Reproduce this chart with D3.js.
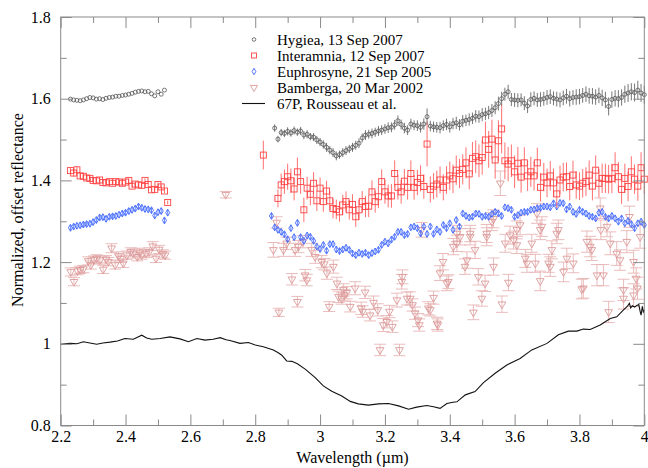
<!DOCTYPE html>
<html><head><meta charset="utf-8">
<script src="https://cdn.jsdelivr.net/npm/d3@7"></script>
<style>
body{margin:0;background:#fff}
svg{display:block}
text{font-family:"Liberation Serif","Times New Roman",serif;fill:#000}
</style>
</head><body>
<svg id="chart" width="648" height="468"></svg>
<script>
// ---------- axes / labels ----------
const xTicks = [2.2,2.4,2.6,2.8,3.0,3.2,3.4,3.6,3.8,4.0];
const xTickLabels = ["2.2","2.4","2.6","2.8","3","3.2","3.4","3.6","3.8","4"];
const xMinorTicks = [2.3,2.5,2.7,2.9,3.1,3.3,3.5,3.7,3.9];
const yTicks = [0.8,1.0,1.2,1.4,1.6,1.8];
const yTickLabels = ["0.8","1","1.2","1.4","1.6","1.8"];
const yMinorTicks = [0.9,1.1,1.3,1.5,1.7];
const xTitle = "Wavelength (\u00b5m)";
const yTitle = "Normalized, offset reflectance";
const legendLabels = ["Hygiea, 13 Sep 2007","Interamnia, 12 Sep 2007","Euphrosyne, 21 Sep 2005","Bamberga, 20 Mar 2002","67P, Rousseau et al."];

// ---------- wavelength grids (regular spectrometer channels, 0.01 um) ----------
const grid = (start, n) => Array.from({length:n}, (_, i) => +(start + i*0.01).toFixed(2));

// ---------- Hygiea ----------
const hygieaWave1 = grid(2.23, 30);
const hygieaVal1 = [1.599,1.597,1.596,1.595,1.597,1.600,1.603,1.602,1.599,1.600,
  1.598,1.601,1.603,1.604,1.606,1.606,1.608,1.609,1.611,1.613,
  1.616,1.618,1.619,1.617,1.618,1.612,1.607,1.617,1.611,1.621];
const hygieaWave2 = grid(2.86, 115);
const hygieaVal2 = [1.528,1.501,1.517,1.515,1.520,1.516,1.522,1.518,1.521,1.511,
  1.513,1.507,1.506,1.499,1.494,1.488,1.481,1.474,1.468,1.460,
  1.463,1.468,1.473,1.477,1.481,1.486,1.491,1.504,1.511,1.513,
  1.515,1.518,1.521,1.523,1.526,1.529,1.530,1.536,1.546,1.537,
  1.528,1.523,1.538,1.535,1.534,1.530,1.538,1.556,1.533,1.531,
  1.530,1.529,1.534,1.537,1.531,1.539,1.541,1.536,1.545,1.547,
  1.549,1.552,1.557,1.556,1.561,1.563,1.566,1.571,1.578,1.588,
  1.600,1.611,1.617,1.598,1.597,1.596,1.597,1.589,1.582,1.598,
  1.601,1.597,1.598,1.600,1.603,1.605,1.601,1.599,1.597,1.602,
  1.606,1.600,1.603,1.604,1.605,1.608,1.611,1.607,1.606,1.604,
  1.608,1.602,1.597,1.581,1.598,1.601,1.600,1.603,1.611,1.614,
  1.617,1.615,1.621,1.614,1.610];
const hygieaErr2 = [9,8,9,9,10,9,10,9,10,10, 10,9,10,10,10,10,11,10,11,11,
  10,11,11,10,11,11,12,11,12,11, 12,11,12,12,12,13,12,12,13,12,
  13,12,13,12,13,13,14,20,13,13, 13,14,13,14,14,14,15,14,15,14,
  15,14,15,15,16,15,16,16,16,17, 17,16,17,16,17,17,16,17,17,18,
  17,17,18,17,18,18,17,18,18,18, 18,19,18,19,19,18,19,19,20,19,
  19,20,20,22,20,20,21,20,21,22, 21,22,23,22,22]; // x 0.001

// ---------- Interamnia ----------
const interWave1 = grid(2.23, 31);
const interVal1 = [1.424,1.418,1.426,1.411,1.410,1.406,1.405,1.400,1.399,1.401,
  1.395,1.394,1.397,1.393,1.397,1.396,1.393,1.396,1.400,1.386,
  1.391,1.389,1.388,1.400,1.390,1.377,1.378,1.390,1.384,1.374,1.346];
const interErr1 = [8,9,8,7,7,6,6,6,6,6,5,5,5,5,5,5,5,5,5,5,5,5,5,5,5,5,5,5,5,5,5];
const interWaveLone = [2.825];
const interValLone = [1.462];
const interErrLone = [35];
const interWave2 = grid(2.87, 114);
const interVal2 = [1.356,1.389,1.397,1.409,1.399,1.379,1.421,1.397,1.328,1.381,
  1.366,1.393,1.350,1.381,1.348,1.374,1.350,1.331,1.329,1.323,
  1.340,1.348,1.328,1.341,1.311,1.328,1.348,1.336,1.337,1.372,
  1.348,1.360,1.397,1.372,1.362,1.362,1.417,1.383,1.372,1.398,
  1.383,1.417,1.383,1.395,1.405,1.385,1.489,1.378,1.386,1.391,
  1.401,1.383,1.401,1.411,1.404,1.425,1.417,1.427,1.443,1.416,
  1.454,1.458,1.448,1.456,1.499,1.476,1.501,1.450,1.497,1.526,
  1.448,1.440,1.448,1.421,1.442,1.408,1.443,1.411,1.421,1.411,
  1.443,1.383,1.408,1.394,1.411,1.394,1.367,1.401,1.408,1.409,
  1.385,1.413,1.389,1.386,1.393,1.397,1.413,1.386,1.425,1.393,
  1.405,1.405,1.403,1.405,1.431,1.409,1.378,1.405,1.385,1.421,
  1.403,1.386,1.431,1.403];
const interErr2 = [22,28,30,32,30,28,35,30,30,28, 27,27,25,26,25,25,24,24,24,24,
  25,25,24,25,25,25,26,26,27,28, 27,28,30,29,28,29,32,30,29,30,
  30,32,30,31,32,30,55,32,32,33, 33,32,34,35,35,36,36,37,38,38,
  40,40,40,42,45,45,48,46,50,60, 45,42,40,40,40,38,38,37,37,36,
  37,35,35,35,36,35,34,35,35,35, 34,35,34,34,35,35,36,35,36,35,
  36,36,35,36,38,36,36,36,36,38, 36,36,38,36];

// ---------- Euphrosyne ----------
const euphWave1 = grid(2.23, 31);
const euphVal1 = [1.284,1.287,1.289,1.290,1.292,1.293,1.294,1.298,1.303,1.309,
  1.310,1.306,1.311,1.312,1.313,1.316,1.319,1.321,1.325,1.328,
  1.331,1.336,1.333,1.330,1.329,1.327,1.314,1.322,1.325,1.302,1.321];
const euphWave2 = grid(2.85, 116);
const euphVal2 = [1.313,1.285,1.279,1.274,1.268,1.256,1.283,1.261,1.296,1.261,
  1.252,1.265,1.262,1.252,1.238,1.232,1.242,1.228,1.244,1.244,
  1.231,1.227,1.231,1.235,1.230,1.221,1.217,1.223,1.220,1.223,
  1.217,1.222,1.226,1.230,1.242,1.250,1.246,1.255,1.262,1.274,
  1.274,1.266,1.269,1.285,1.287,1.283,1.270,1.287,1.269,1.287,
  1.269,1.280,1.274,1.291,1.283,1.295,1.279,1.303,1.287,1.319,
  1.313,1.309,1.311,1.319,1.318,1.311,1.313,1.311,1.318,1.323,
  1.319,1.313,1.334,1.332,1.328,1.311,1.315,1.321,1.323,1.323,
  1.328,1.329,1.332,1.333,1.336,1.336,1.334,1.344,1.336,1.345,
  1.344,1.329,1.336,1.323,1.318,1.328,1.323,1.319,1.313,1.311,
  1.307,1.321,1.323,1.311,1.307,1.313,1.307,1.299,1.307,1.295,
  1.301,1.293,1.283,1.295,1.299,1.291];

// ---------- Bamberga (wavelength, value, error x0.001) ----------
const bambergaWave = [2.231,2.241,2.252,2.260,2.270,2.285,2.293,2.302,2.311,2.321,2.331,2.340,2.347,2.357,2.368,2.378,2.385,2.393,2.404,2.416,2.424,2.436,2.443,2.450,2.463,2.473,2.484,2.494,2.504,2.515,2.522,
  2.709,
  2.856,2.866,2.873,2.887,2.897,2.913,2.923,2.930,2.933,2.947,2.954,2.959,2.974,2.985,3.005,3.013,3.021,3.028,3.041,3.052,3.057,3.067,3.072,3.075,3.082,3.093,3.108,3.127,3.131,3.139,3.154,3.165,3.178,3.185,3.195,3.206,3.214,3.223,3.237,3.245,3.252,3.254,3.268,3.278,3.285,3.293,3.302,3.306,3.313,3.334,3.340,3.350,3.361,3.363,3.370,3.379,3.391,3.396,3.411,3.422,3.422,3.432,3.447,3.453,3.463,3.463,3.473,3.478,3.488,3.499,3.509,3.514,3.514,3.530,3.535,3.535,3.556,3.561,3.571,3.581,3.586,3.597,3.607,3.607,3.617,3.633,3.638,3.653,3.664,3.669,3.679,3.679,3.684,3.705,3.710,3.715,3.730,3.735,3.751,3.761,3.781,3.807,3.812,3.823,3.833,3.838,3.854,3.864,3.866,3.874,3.885,3.890,3.895,3.915,3.925,3.936,3.936,3.946,3.954,3.967,3.967,3.975,3.979,3.987];
const bambergaVal = [1.176,1.152,1.178,1.181,1.183,1.203,1.193,1.206,1.209,1.205,1.182,1.207,1.201,1.234,1.193,1.215,1.208,1.197,1.217,1.225,1.221,1.213,1.224,1.217,1.221,1.225,1.239,1.209,1.231,1.220,1.217,
  1.365,
  1.230,1.297,1.077,1.230,1.246,1.158,1.230,1.103,1.238,1.250,1.168,1.156,1.230,1.213,1.201,1.195,1.173,1.091,1.189,1.148,1.115,1.111,1.132,1.119,1.125,1.091,1.136,1.087,1.079,1.126,1.070,1.101,1.083,0.985,1.046,1.054,1.079,1.042,1.107,0.985,1.152,1.164,1.111,1.111,1.095,1.075,1.058,1.046,1.279,1.087,1.083,1.113,1.050,1.046,1.173,1.201,1.148,1.152,1.238,1.246,1.270,1.262,1.189,1.205,1.262,1.270,1.077,1.230,1.164,1.111,1.148,1.262,1.270,1.299,1.189,1.306,1.393,1.097,1.246,1.150,1.266,1.254,1.242,1.279,1.291,1.209,1.197,1.246,1.197,1.319,1.154,1.279,1.287,1.197,1.189,1.230,1.270,1.279,1.176,1.209,1.197,1.134,1.136,1.250,1.238,1.230,1.168,1.332,1.279,1.168,1.287,1.078,1.246,1.221,1.205,1.111,1.132,1.250,1.311,1.201,1.119,1.160,1.136,1.262];
const bambergaErr = [10,10,9,9,9,10,10,9,9,10,10,9,10,11,10,10,9,10,10,10,11,10,10,10,10,10,11,10,10,10,10,
  8,
  18,14,10,16,15,14,16,13,15,15,14,14,16,16,15,14,15,12,16,15,14,14,15,14,15,13,16,15,14,15,14,16,15,14,16,15,15,14,17,14,18,17,16,16,15,15,16,15,18,16,15,16,15,15,18,20,18,17,20,20,20,20,19,20,20,20,18,21,20,19,20,22,22,22,21,22,30,20,22,20,22,22,21,22,24,22,22,22,22,24,24,24,24,22,24,22,25,24,24,25,23,24,24,26,25,26,26,25,24,26,25,26,28,29,25,26,26,27,26,28,28,26,27,28,27];

// ---------- 67P (Rousseau et al.) ----------
const cometWave = [2.200,2.229,2.250,2.270,2.290,2.311,2.330,2.352,2.375,2.398,2.424,2.450,2.465,2.481,2.507,2.537,2.568,2.594,2.620,2.645,2.670,2.692,2.710,2.722,2.753,2.779,2.800,2.825,2.856,2.871,2.882,2.897,2.913,2.930,2.954,2.985,3.010,3.036,3.067,3.093,3.118,3.149,3.180,3.211,3.242,3.273,3.298,3.329,3.350,3.370,3.391,3.410,3.422,3.448,3.478,3.504,3.540,3.576,3.617,3.653,3.700,3.735,3.766,3.792,3.812,3.833,3.864,3.895,3.915,3.936,3.948,3.954,3.958,3.963,3.970,3.977,3.983,3.987,3.990,3.994,3.997,4.000];
const cometVal = [0.999,1.001,1.000,1.005,1.002,0.999,1.002,1.004,1.007,1.013,1.011,1.021,1.014,1.011,1.013,1.017,1.012,1.005,1.013,1.009,1.011,1.015,1.010,1.008,1.001,1.003,0.997,0.993,0.985,0.978,0.972,0.958,0.957,0.951,0.938,0.917,0.897,0.884,0.872,0.859,0.853,0.850,0.853,0.854,0.848,0.840,0.845,0.849,0.846,0.842,0.854,0.857,0.858,0.875,0.883,0.905,0.928,0.948,0.964,0.985,1.001,1.022,1.031,1.031,1.036,1.035,1.046,1.062,1.066,1.083,1.092,1.099,1.088,1.093,1.090,1.094,1.096,1.080,1.070,1.092,1.078,1.083];

// ---------- styles ----------
const colHyg = "#555555", colHygErr = "#666666";
const colInt = "#ff4444", colIntErr = "#ff7070";
const colEup = "#3f66ff";
const colBam = "#dd9a9a", colBamErr = "#e8b4b4";
const axisCol = "#8a8a8a";

const svg = d3.select("#chart");
const X0 = 60.7, X1 = 644.3, Y0 = 425.5, Y1 = 17;
const x = d3.scaleLinear().domain([2.2, 4.0]).range([X0, X1]);
const y = d3.scaleLinear().domain([0.8, 1.8]).range([Y0, Y1]);

const zip = (w, v, e) => w.map((d, i) => ({w: d, v: v[i], e: e ? e[i] / 1000 : 0}));

const plot = svg.append("g");

// Bamberga
const bam = zip(bambergaWave, bambergaVal, bambergaErr);
const gb = plot.append("g");
const capW = 6;
bam.forEach(d => {
  const cx = x(d.w), yt = y(d.v + d.e), yb = y(d.v - d.e);
  gb.append("line").attr("x1", cx).attr("x2", cx).attr("y1", yt).attr("y2", yb).attr("stroke", colBamErr).attr("stroke-width", 0.9);
  gb.append("line").attr("x1", cx - capW).attr("x2", cx + capW).attr("y1", yt).attr("y2", yt).attr("stroke", colBamErr).attr("stroke-width", 0.9);
  gb.append("line").attr("x1", cx - capW).attr("x2", cx + capW).attr("y1", yb).attr("y2", yb).attr("stroke", colBamErr).attr("stroke-width", 0.9);
});
const triDown = d3.symbol().type(d3.symbolTriangle).size(26);
gb.selectAll("path.tri").data(bam).join("path").attr("class","tri")
  .attr("d", triDown).attr("transform", d => `translate(${x(d.w)},${y(d.v)}) rotate(180)`)
  .attr("fill", "none").attr("stroke", colBam).attr("stroke-width", 0.9);

// Euphrosyne
const eup = zip(euphWave1, euphVal1).concat(zip(euphWave2, euphVal2));
const ge = plot.append("g");
ge.selectAll("line").data(eup).join("line")
  .attr("x1", d => x(d.w)).attr("x2", d => x(d.w)).attr("y1", d => y(d.v) - 3).attr("y2", d => y(d.v) + 3)
  .attr("stroke", colEup).attr("stroke-width", 0.8);
ge.selectAll("path").data(eup).join("path")
  .attr("d", d3.symbol().type(d3.symbolDiamond).size(14))
  .attr("transform", d => `translate(${x(d.w)},${y(d.v)})`)
  .attr("fill", "none").attr("stroke", colEup).attr("stroke-width", 0.9);

// Interamnia
const int = zip(interWave1, interVal1, interErr1).concat(zip(interWaveLone, interValLone, interErrLone), zip(interWave2, interVal2, interErr2));
const gi = plot.append("g");
gi.selectAll("line").data(int).join("line")
  .attr("x1", d => x(d.w)).attr("x2", d => x(d.w)).attr("y1", d => y(d.v + d.e)).attr("y2", d => y(d.v - d.e))
  .attr("stroke", colIntErr).attr("stroke-width", 1);
gi.selectAll("rect").data(int).join("rect")
  .attr("x", d => x(d.w) - 3).attr("y", d => y(d.v) - 3).attr("width", 6).attr("height", 6)
  .attr("fill", "none").attr("stroke", colInt).attr("stroke-width", 0.9);

// Hygiea
const hyg = zip(hygieaWave1, hygieaVal1).concat(zip(hygieaWave2, hygieaVal2, hygieaErr2));
const gh = plot.append("g");
gh.selectAll("line").data(hyg.filter(d => d.e > 0)).join("line")
  .attr("x1", d => x(d.w)).attr("x2", d => x(d.w)).attr("y1", d => y(d.v + d.e)).attr("y2", d => y(d.v - d.e))
  .attr("stroke", colHygErr).attr("stroke-width", 0.9);
gh.selectAll("circle").data(hyg).join("circle")
  .attr("cx", d => x(d.w)).attr("cy", d => y(d.v)).attr("r", 2)
  .attr("fill", "none").attr("stroke", colHyg).attr("stroke-width", 0.8);

// 67P
plot.append("path").datum(zip(cometWave, cometVal))
  .attr("d", d3.line().x(d => x(d.w)).y(d => y(d.v)))
  .attr("fill", "none").attr("stroke", "#111").attr("stroke-width", 1.1);

// ---------- axes ----------
function styleAxis(g) {
  g.select(".domain").remove();
  g.selectAll(".tick line").attr("stroke", axisCol);
  g.selectAll(".tick text").attr("font-size", 16).attr("fill", "#000")
    .attr("font-family", '"Liberation Serif","Times New Roman",serif');
}
const fmtX = d => xTickLabels[xTicks.findIndex(t => Math.abs(t - d) < 1e-9)];
const fmtY = d => yTickLabels[yTicks.findIndex(t => Math.abs(t - d) < 1e-9)];

svg.append("g").attr("transform", `translate(0,${Y0})`)
  .call(d3.axisBottom(x).tickValues(xTicks).tickFormat(fmtX).tickSize(-11).tickPadding(5)).call(styleAxis);
svg.append("g").attr("transform", `translate(0,${Y0})`)
  .call(d3.axisBottom(x).tickValues(xMinorTicks).tickFormat("").tickSize(-6)).call(styleAxis);
svg.append("g").attr("transform", `translate(0,${Y1})`)
  .call(d3.axisTop(x).tickValues(xTicks).tickFormat("").tickSize(-11)).call(styleAxis);
svg.append("g").attr("transform", `translate(0,${Y1})`)
  .call(d3.axisTop(x).tickValues(xMinorTicks).tickFormat("").tickSize(-6)).call(styleAxis);
svg.append("g").attr("transform", `translate(${X0},0)`)
  .call(d3.axisLeft(y).tickValues(yTicks).tickFormat(fmtY).tickSize(-11).tickPadding(10)).call(styleAxis);
svg.append("g").attr("transform", `translate(${X0},0)`)
  .call(d3.axisLeft(y).tickValues(yMinorTicks).tickFormat("").tickSize(-6)).call(styleAxis);
svg.append("g").attr("transform", `translate(${X1},0)`)
  .call(d3.axisRight(y).tickValues(yTicks).tickFormat("").tickSize(-11)).call(styleAxis);
svg.append("g").attr("transform", `translate(${X1},0)`)
  .call(d3.axisRight(y).tickValues(yMinorTicks).tickFormat("").tickSize(-6)).call(styleAxis);

svg.append("rect").attr("x", X0).attr("y", Y1).attr("width", X1 - X0).attr("height", Y0 - Y1)
  .attr("fill", "none").attr("stroke", axisCol).attr("stroke-width", 1);

svg.append("text").attr("x", (X0 + X1) / 2).attr("y", 463).attr("text-anchor", "middle")
  .attr("font-size", 16).text(xTitle);
svg.append("text").attr("transform", `translate(23,210) rotate(-90)`).attr("text-anchor", "middle")
  .attr("font-size", 16).text(yTitle);

// ---------- legend ----------
const lg = svg.append("g");
const legTextX = 277, legSymX = 254, legBase = 44.5, legStep = 16;
legendLabels.forEach((t, i) => {
  const by = legBase + i * legStep;
  lg.append("text").attr("x", legTextX).attr("y", by).attr("font-size", 15).text(t);
  const cy = by - 5;
  if (i === 0) lg.append("circle").attr("cx", legSymX).attr("cy", cy).attr("r", 1.8).attr("fill", "none").attr("stroke", colHyg).attr("stroke-width", 0.8);
  if (i === 1) lg.append("rect").attr("x", legSymX - 2.5).attr("y", cy - 2.5).attr("width", 5).attr("height", 5).attr("fill", "none").attr("stroke", colInt).attr("stroke-width", 0.9);
  if (i === 2) lg.append("path").attr("d", d3.symbol().type(d3.symbolDiamond).size(12)).attr("transform", `translate(${legSymX},${cy})`).attr("fill", "none").attr("stroke", colEup).attr("stroke-width", 0.9);
  if (i === 3) lg.append("path").attr("d", d3.symbol().type(d3.symbolTriangle).size(22)).attr("transform", `translate(${legSymX},${cy}) rotate(180)`).attr("fill", "none").attr("stroke", colBam).attr("stroke-width", 0.9);
  if (i === 4) lg.append("line").attr("x1", 242).attr("x2", 265).attr("y1", cy).attr("y2", cy).attr("stroke", "#111").attr("stroke-width", 1.1);
});
</script>
</body></html>
